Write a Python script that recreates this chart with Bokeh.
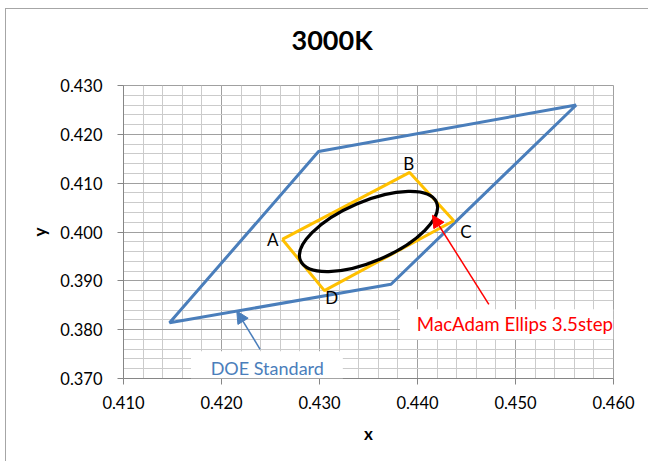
from bokeh.plotting import figure
from bokeh.models import (Range1d, SingleIntervalTicker, PrintfTickFormatter, Label,
                          Arrow, NormalHead, BoxAnnotation, Title)
from bokeh.embed import file_html
from bokeh.resources import INLINE

# DOE Standard quadrangle (3000K)
doe_x = [0.4562, 0.4299, 0.4147, 0.4373, 0.4562]
doe_y = [0.4260, 0.4165, 0.3814, 0.3893, 0.4260]

# Orange quadrangle corners A, B, C, D
quad_names = ["A", "B", "C", "D"]
quad_x = [0.4262, 0.4392, 0.4437, 0.4305, 0.4262]
quad_y = [0.3985, 0.4122, 0.4023, 0.3880, 0.3985]

# MacAdam ellipse (3.5 step)
ell_x = 0.4350
ell_y = 0.4001
ell_w = 0.0151
ell_h = 0.01226
ell_angle = 0.405

# corner label positions
lab_x = [0.42523, 0.43911, 0.44493, 0.43125]
lab_y = [0.39847, 0.41398, 0.40010, 0.38661]

FONT = "Lato"
BLUE = "#4A7EBB"
ORANGE = "#FFC000"

p = figure(width=643, height=453, output_backend="svg", toolbar_location=None,
           x_range=Range1d(0.41, 0.46), y_range=Range1d(0.37, 0.43),
           min_border_left=117, min_border_right=36, min_border_top=76, min_border_bottom=84,
           margin=(8, 0, 0, 5),
           styles={"border-left": "1px solid #a6a6a6", "border-top": "1px solid #a6a6a6"})

# blank spacer between the frame and the title
p.add_layout(Title(text=" ", text_font_size="14px", standoff=10), "above")

p.title.text = "3000K"
p.title.align = "left"
p.title.offset = 168
p.title.vertical_align = "top"
p.title.standoff = 0
p.title.text_font = FONT
p.title.text_font_size = "27px"
p.title.text_font_style = "bold"
p.title.text_color = "black"

tick = SingleIntervalTicker(interval=0.01, num_minor_ticks=5)
for ax in (p.xaxis[0], p.yaxis[0]):
    ax.ticker = tick
    ax.formatter = PrintfTickFormatter(format="%.3f")
    ax.axis_line_color = "#868686"
    ax.major_tick_line_color = "#868686"
    ax.major_tick_out = 6
    ax.major_tick_in = 0
    ax.minor_tick_line_color = None
    ax.major_label_text_font = FONT
    ax.major_label_text_font_size = "16.5px"
    ax.major_label_text_color = "black"
    ax.axis_label_text_font = FONT
    ax.axis_label_text_font_size = "17px"
    ax.axis_label_text_font_style = "bold"
    ax.axis_label_text_color = "black"

p.xaxis.axis_label = "x"
p.yaxis.axis_label = "y"
p.yaxis.major_label_standoff = 15
p.xaxis.major_label_standoff = 11
p.xaxis.axis_label_standoff = 11
p.yaxis.axis_label_standoff = 7
p.yaxis.major_label_orientation = "horizontal"

for g in (p.xgrid[0], p.ygrid[0]):
    g.ticker = tick
    g.grid_line_color = "#A0A0A0"
    g.minor_grid_line_color = "#CBCBCB"

p.outline_line_color = "#A0A0A0"

p.line(doe_x, doe_y, line_color=BLUE, line_width=3)
p.line(quad_x, quad_y, line_color=ORANGE, line_width=3)
p.ellipse(x=[ell_x], y=[ell_y], width=[ell_w], height=[ell_h], angle=[ell_angle],
          fill_color=None, line_color="black", line_width=3.2)

for n, x, y in zip(quad_names, lab_x, lab_y):
    p.add_layout(Label(x=x, y=y, text=n, text_font=FONT, text_font_size="17px",
                       text_color="black", text_align="center", text_baseline="middle"))

# annotation boxes
p.add_layout(BoxAnnotation(left=0.4382, right=0.4600, top=0.38416, bottom=0.37803,
                           fill_color="white", fill_alpha=1, line_color=None))
p.add_layout(BoxAnnotation(left=0.41689, right=0.43238, top=0.37558, bottom=0.3700,
                           fill_color="white", fill_alpha=1, line_color=None))

p.add_layout(Label(x=0.43993, y=0.38109, text="MacAdam Ellips 3.5step", text_font=FONT,
                   text_font_size="18.7px", text_color="red", text_align="left",
                   text_baseline="middle"))
p.add_layout(Label(x=0.42467, y=0.37210, text="DOE Standard", text_font=FONT,
                   text_font_size="18px", text_color=BLUE, text_align="center",
                   text_baseline="middle"))

p.add_layout(Arrow(end=NormalHead(size=12, fill_color="red", line_color="red"),
                   x_start=0.44728, y_start=0.38518, x_end=0.44153, y_end=0.40343,
                   line_color="red", line_width=1.5))
p.add_layout(Arrow(end=NormalHead(size=12, fill_color=BLUE, line_color=BLUE),
                   x_start=0.42394, y_start=0.37598, x_end=0.42156, y_end=0.38381,
                   line_color=BLUE, line_width=1.5))

open("out.html", "w").write(file_html(p, INLINE))
